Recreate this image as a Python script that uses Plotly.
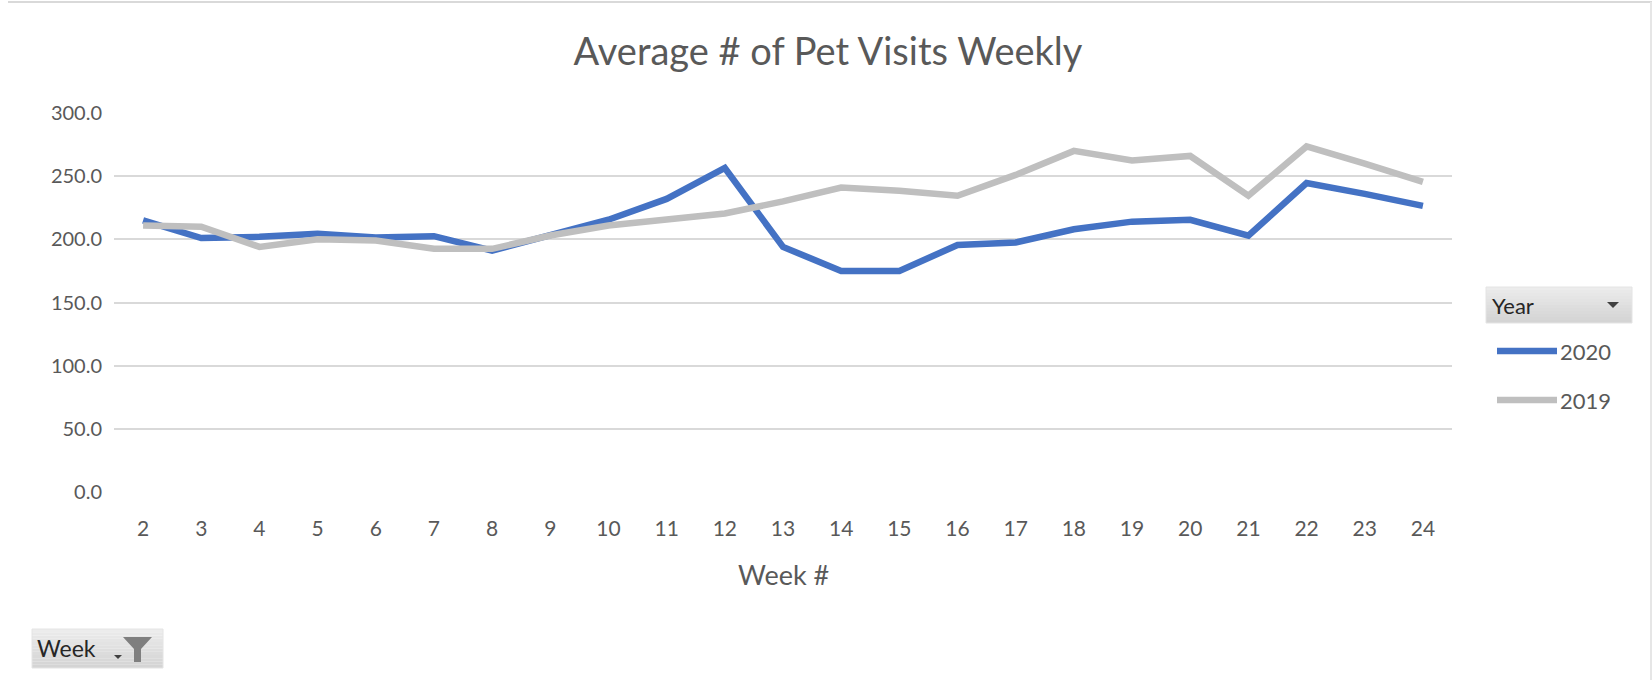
import plotly.graph_objects as go

weeks = [str(w) for w in range(2, 25)]
visits_2020 = [215, 201, 202, 204.5, 201.5, 202.5, 191, 203, 215.5, 232, 256.5,
               194, 175, 175, 195.5, 197.5, 208, 214, 215.5, 203, 244.5, 236, 226.5]
visits_2019 = [211, 210, 194, 200, 199, 192.5, 192.5, 203, 211, 215.5, 220.5,
               230, 241, 238.5, 234.5, 251, 270, 262.5, 266, 234.5, 273.5, 260, 245.5]
series_names = ["2020", "2019"]
series_colors = ["#4472C4", "#BFBFBF"]
y_ticks = [0, 50, 100, 150, 200, 250, 300]

W, H = 1652, 680
L, R, T, B = 114, 200, 113, 188
PW, PH = W - L - R, H - T - B


def px(x):
    return (x - L) / PW


def py(y):
    return (H - B - y) / PH


fig = go.Figure()
for name, vals, col in zip(series_names, [visits_2020, visits_2019], series_colors):
    fig.add_trace(go.Scatter(x=weeks, y=vals, mode="lines", name=name,
                             line=dict(color=col, width=6.5), showlegend=False))

TXT = "#595959"
FONT = "Lato, 'Open Sans', sans-serif"

shapes = []
annotations = []

# outer frame (top and right edge)
shapes.append(dict(type="line", xref="paper", yref="paper", x0=px(8), x1=px(1652), y0=py(2), y1=py(2),
                   line=dict(color="#D9D9D9", width=2)))
shapes.append(dict(type="line", xref="paper", yref="paper", x0=px(1651), x1=px(1651), y0=py(2), y1=py(680),
                   line=dict(color="#E6E6E6", width=2)))


def button(x0, y0, x1, y1):
    n = 12
    for i in range(n):
        c = int(236 - (236 - 212) * i / (n - 1))
        ya = y0 + (y1 - y0) * i / n
        yb = y0 + (y1 - y0) * (i + 1) / n
        shapes.append(dict(type="rect", xref="paper", yref="paper", x0=px(x0), x1=px(x1),
                           y0=py(ya), y1=py(yb), line=dict(width=0),
                           fillcolor=f"rgb({c},{c},{c})", layer="above"))
    shapes.append(dict(type="rect", xref="paper", yref="paper", x0=px(x0), x1=px(x1),
                       y0=py(y0), y1=py(y1), line=dict(color="#E4E4E4", width=1),
                       fillcolor="rgba(0,0,0,0)", layer="above"))


# Year legend header button
button(1486, 287, 1632, 323)
annotations.append(dict(xref="paper", yref="paper", x=px(1490), y=py(305), text="Year",
                        showarrow=False, xanchor="left", yanchor="middle",
                        font=dict(family=FONT, size=22, color="#262626")))
shapes.append(dict(type="path", xref="paper", yref="paper", layer="above",
                   path=f"M {px(1607)} {py(302)} L {px(1619)} {py(302)} L {px(1613)} {py(308)} Z",
                   fillcolor="#404040", line=dict(width=0)))

# legend entries
for i, (name, col) in enumerate(zip(series_names, series_colors)):
    yy = 351 + i * 49
    shapes.append(dict(type="line", xref="paper", yref="paper", x0=px(1497), x1=px(1557),
                       y0=py(yy), y1=py(yy), line=dict(color=col, width=6.5), layer="above"))
    annotations.append(dict(xref="paper", yref="paper", x=px(1558), y=py(yy), text=name,
                            showarrow=False, xanchor="left", yanchor="middle",
                            font=dict(family=FONT, size=22, color=TXT)))

# Week filter button
button(32, 629, 163, 668)
annotations.append(dict(xref="paper", yref="paper", x=px(35), y=py(648), text="Week",
                        showarrow=False, xanchor="left", yanchor="middle",
                        font=dict(family=FONT, size=23, color="#262626")))
shapes.append(dict(type="path", xref="paper", yref="paper", layer="above",
                   path=f"M {px(114)} {py(655)} L {px(122)} {py(655)} L {px(118)} {py(659)} Z",
                   fillcolor="#404040", line=dict(width=0)))
shapes.append(dict(type="path", xref="paper", yref="paper", layer="above",
                   path=(f"M {px(123)} {py(637)} L {px(152)} {py(637)} L {px(141)} {py(649)} "
                         f"L {px(141)} {py(662)} L {px(134)} {py(662)} L {px(134)} {py(649)} Z"),
                   fillcolor="#7F7F7F", line=dict(width=0)))

# axis title
annotations.append(dict(xref="paper", yref="paper", x=0.5, y=py(574), text="Week #",
                        showarrow=False, xanchor="center", yanchor="middle",
                        font=dict(family=FONT, size=27, color=TXT)))

fig.update_layout(
    width=W, height=H,
    margin=dict(l=L, r=R, t=T, b=B),
    paper_bgcolor="white", plot_bgcolor="white",
    title=dict(text="Average # of Pet Visits Weekly", x=828 / W, xanchor="center",
               y=1 - 52 / H, yanchor="middle", xref="container", yref="container",
               font=dict(family=FONT, size=38, color=TXT)),
    xaxis=dict(type="category", range=[-0.5, len(weeks) - 0.5], showgrid=False,
               showline=False, zeroline=False, ticks="", ticklabelstandoff=22,
               tickfont=dict(family=FONT, size=21, color=TXT)),
    yaxis=dict(range=[0, 300], tickvals=y_ticks, ticktext=[f"{v:.1f}" for v in y_ticks],
               showgrid=True, gridcolor="#D9D9D9", gridwidth=2, zeroline=False,
               showline=False, ticks="", ticklabelstandoff=11,
               tickfont=dict(family=FONT, size=20, color=TXT)),
    shapes=shapes, annotations=annotations,
)

fig.write_html("out.html", config={"displayModeBar": False},
               post_script="document.body.style.margin='0';document.body.style.overflow='hidden';")
